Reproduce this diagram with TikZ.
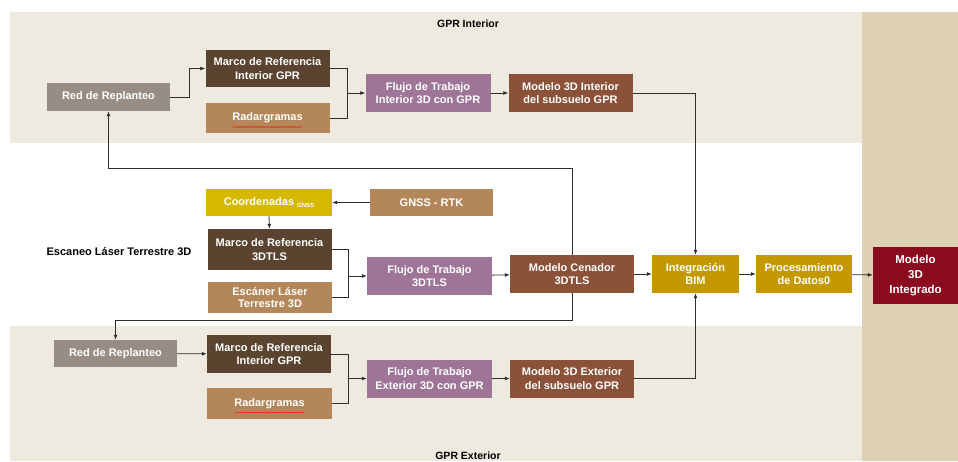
\documentclass[tikz,border=0pt]{standalone}
\usepackage{fontspec}
\setmainfont{Liberation Sans}
\usepackage{xcolor}
\usepackage{tikz}
\usetikzlibrary{arrows.meta,positioning,decorations.pathmorphing}

\definecolor{bandbg}{HTML}{EFEAE0}
\definecolor{sidebg}{HTML}{DDD0B3}
\definecolor{repgrey}{HTML}{978D85}
\definecolor{refbrown}{HTML}{5A4430}
\definecolor{databrown}{HTML}{B4875A}
\definecolor{flowpurple}{HTML}{9E7597}
\definecolor{modelbrown}{HTML}{8B5239}
\definecolor{gnssyellow}{HTML}{D6B800}
\definecolor{bimgold}{HTML}{C49900}
\definecolor{finalred}{HTML}{8A0A1E}
\definecolor{linegrey}{HTML}{2E2E2E}

\begin{document}
\begin{tikzpicture}[
    x=1pt, y=-1pt,
    box/.style={text=white, font=\fontsize{11}{13.5}\selectfont\bfseries, align=center, inner sep=2pt},
    repbox/.style={box, fill=repgrey, minimum width=123pt, minimum height=28pt},
    refbox/.style={box, fill=refbrown, minimum width=124pt, minimum height=38pt},
    databox/.style={box, fill=databrown, minimum width=124pt, minimum height=30pt},
    flowbox/.style={box, fill=flowpurple, minimum width=125pt, minimum height=38pt},
    modelbox/.style={box, fill=modelbrown, minimum width=124pt, minimum height=38pt},
    goldbox/.style={box, fill=bimgold, minimum height=38pt},
    title/.style={font=\fontsize{10.5}{12}\selectfont\bfseries},
    link/.style={draw=linegrey, line width=0.8pt},
    arr/.style={link, -{Latex[length=5pt,width=4pt]}},
    squiggle/.style={red, line width=0.4pt, decorate, decoration={snake, amplitude=0.5pt, segment length=2.5pt}}
]
\useasboundingbox (0,0) rectangle (958,461);

% Bands
\fill[bandbg] (10,12) rectangle (862,143);
\fill[bandbg] (10,326) rectangle (862,461);
\fill[sidebg] (862,12) rectangle (958,461);
\node[title] (tint) at (468,24) {GPR Interior};
\node[title] (text) at (468,456) {GPR Exterior};
\node[title, font=\fontsize{11}{13}\selectfont\bfseries] (tls) at (119,252) {Escaneo Láser Terrestre 3D};

% GPR Interior
\node[repbox] (red1) at (108.5,97) {Red de Replanteo};
\node[refbox, minimum height=37pt] (marco1) at (267.5,68.5) {Marco de Referencia\\Interior GPR};
\node[databox] (radar1) at (267.5,118) {Radargramas};
\node[flowbox] (flujo1) at (428,93) {Flujo de Trabajo\\Interior 3D con GPR};
\node[modelbox] (mod1) at (570.5,93) {Modelo 3D Interior\\del subsuelo GPR};

% Escaneo Laser Terrestre 3D
\node[box, fill=gnssyellow, minimum width=126pt, minimum height=27pt] (coord) at (269,202.5)
    {Coordenadas \raisebox{-1.5pt}{\fontsize{6}{7}\selectfont GNSS}};
\node[box, fill=databrown, minimum width=123pt, minimum height=27pt] (rtk) at (431.5,202.5) {GNSS - RTK};
\node[refbox, minimum height=41pt] (marco2) at (269.5,249.5) {Marco de Referencia\\3DTLS};
\node[databox, minimum height=31pt, font=\fontsize{11}{12.5}\selectfont\bfseries] (escaner) at (270,297.5) {Escáner Láser\\Terrestre 3D};
\node[flowbox] (flujo2) at (429.5,276) {Flujo de Trabajo\\3DTLS};
\node[modelbox] (cen) at (572,274) {Modelo Cenador\\3DTLS};
\node[goldbox, minimum width=87pt] (bim) at (695.5,274) {Integración\\BIM};
\node[goldbox, minimum width=96pt] (proc) at (804,274) {Procesamiento\\de Datos0};
\node[box, fill=finalred, minimum width=85pt, minimum height=57pt, font=\fontsize{11.5}{15}\selectfont\bfseries] (final) at (915.5,275.5) {Modelo\\3D\\Integrado};

% GPR Exterior
\node[repbox, minimum height=27pt] (red2) at (115.5,353.5) {Red de Replanteo};
\node[refbox] (marco3) at (269,354) {Marco de Referencia\\Interior GPR};
\node[databox, minimum width=125pt, minimum height=31pt] (radar3) at (269.5,403.5) {Radargramas};
\node[flowbox] (flujo3) at (429.5,378.5) {Flujo de Trabajo\\Exterior 3D con GPR};
\node[modelbox] (mod3) at (572,378.5) {Modelo 3D Exterior\\del subsuelo GPR};

% Spelling marks
\draw[squiggle] ([xshift=-35pt,yshift=-9pt]radar1.center) -- ([xshift=35pt,yshift=-9pt]radar1.center);
\draw[squiggle] ([xshift=-35pt,yshift=-9pt]radar3.center) -- ([xshift=35pt,yshift=-9pt]radar3.center);

% Junctions
\coordinate[left=18pt of flujo1.west] (j1);
\coordinate[left=18pt of flujo2.west] (j2);
\coordinate[left=18pt of flujo3.west] (j3);

% Connectors, interior
\draw[arr] (red1.east) -- ++(19,0) |- (marco1.west);
\draw[link] (marco1.east) -| (j1);
\draw[link] (radar1.east) -| (j1);
\draw[arr] (j1) -- (flujo1.west);
\draw[arr] (flujo1) -- (mod1);
\draw[arr] (mod1.east) -| (bim.north);

% Connectors, TLS
\draw[arr] (rtk.west) -- (coord.east);
\draw[arr] (coord.south) -- (marco2.north);
\draw[link] (marco2.east) -| (j2);
\draw[link] (escaner.east) -| (j2);
\draw[arr] (j2) -- (flujo2.west);
\draw[arr] (flujo2) -- (cen);
\draw[arr] (cen) -- (bim);
\draw[arr] (bim) -- (proc);
\draw[arr] (proc) -- (final);
\draw[arr] (cen.north) -- ++(0,-86) -| (red1.south);
\draw[arr] (cen.south) -- ++(0,27) -| (red2.north);

% Connectors, exterior
\draw[arr] (red2) -- (marco3);
\draw[link] (marco3.east) -| (j3);
\draw[link] (radar3.east) -| (j3);
\draw[arr] (j3) -- (flujo3.west);
\draw[arr] (flujo3) -- (mod3);
\draw[arr] (mod3.east) -| (bim.south);

\end{tikzpicture}
\end{document}
